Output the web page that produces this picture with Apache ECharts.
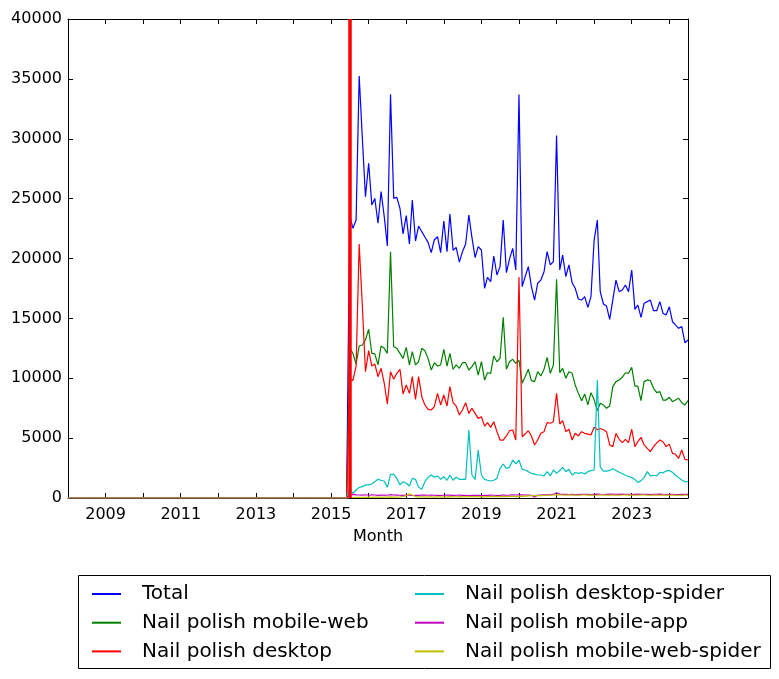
<!DOCTYPE html>
<html><head><meta charset="utf-8">
<script src="https://cdn.jsdelivr.net/npm/echarts@6/dist/echarts.min.js"></script>
<style>html,body{margin:0;padding:0;background:#fff}#c{width:779px;height:679px}</style>
</head><body><div id="c"></div>
<script>
// ---- data ----
const seriesNames = ['Total','Nail polish mobile-web','Nail polish desktop','Nail polish desktop-spider','Nail polish mobile-app','Nail polish mobile-web-spider'];
const seriesColors = ['#0000ff','#008000','#ff0000','#00bfbf','#bf00bf','#bfbf00'];
const zeroFrom = [2008, 1];   // all series are 0 from here ...
const zeroTo = [2015, 6];     // ... to here
const dataStart = [2015, 7];  // first month of the monthly values below
const axisStart = [2008, 1];
const axisEnd = [2024, 7];
const xTickYears = [2009, 2011, 2013, 2015, 2017, 2019, 2021, 2023];
const markerMonth = [2015, 7];

const total = [
23630,22520,23210,35240,30000,25160,27950,24470,25020,22940,
25580,23490,21040,33710,25020,25110,24190,22050,23580,21210,
24880,21460,22710,22240,21800,21350,20490,21570,21820,20490,
23130,20570,23720,20690,20930,19700,20570,21210,23630,21770,
20070,20990,20710,17510,18430,18070,20210,18620,19320,23210,
18820,19950,20850,19040,33700,17650,18480,19320,17650,16530,
17930,18200,18900,20570,19460,19740,30260,19040,20290,18480,
19460,17980,17510,16620,16530,16810,15920,16810,21540,23210,
17230,16200,16030,14920,16530,18200,17230,17370,17790,17230,
19040,15750,16120,15090,16260,16400,16530,15640,15640,16400,
15420,15280,15970,14720,14450,14170,14310,12970,13190];
const mobileWeb = [
12500,12080,11190,12690,12780,13190,14090,12080,12030,11110,
12690,12500,12080,20570,12630,12500,12080,11660,12580,11110,
12220,11110,11380,12500,12300,11660,10690,11300,11020,11110,
12410,11020,12080,10750,11110,10830,11300,11300,10690,10970,
11380,10270,11380,9850,10460,10410,11860,11380,11660,15090,
10750,11380,11580,11250,11500,9580,10130,10750,9800,9720,
10550,10190,10750,11750,10410,11110,18260,10460,10830,10000,
10550,10410,9440,8740,8130,8690,7770,8800,8200,7300,
7910,7770,7490,7680,9300,9720,9860,10080,10460,10410,
10910,9350,9350,8130,9720,9860,9800,9160,8800,8880,
8180,8180,8410,8040,8180,8330,7960,7770,8130];
const desktop = [
10000,9800,11020,21210,16000,10550,12300,11020,11190,10130,
10830,9580,7850,10550,9910,10410,10750,8690,9440,8740,
10130,8240,10130,8460,7770,7400,7350,7630,8740,7770,
8600,7680,9300,7960,7680,6930,7350,7960,7070,7490,
7070,6650,6790,6000,6300,5900,6370,5540,4840,4840,
5180,5620,5680,4840,18450,5120,5340,5620,5180,4430,
4840,5400,5540,6290,6240,6370,8740,6180,6460,5540,
5740,4840,5400,5180,5540,5400,5340,5260,5900,5700,
5800,5700,5540,4430,4290,5400,4900,4620,4900,4620,
5740,4290,4700,5070,4430,4150,3870,4290,4600,4840,
4700,4290,4500,3730,3650,3310,4010,3230,3170];
const desktopSpider = [
810,390,670,890,950,1090,1090,1170,1360,1560,
1480,1400,890,1980,1980,1640,1090,1360,1230,1000,
1640,1560,890,730,1360,1730,1920,1730,1840,1560,
1780,1480,1920,1480,1730,1560,1560,1560,5680,1920,
1560,4010,1920,1560,1480,1420,1480,1640,2480,2840,
2480,2560,3170,2840,3170,2400,2340,2200,2060,2000,
1920,1920,1840,2200,1840,2340,2060,2300,2560,2200,
2400,1920,2130,2060,2130,2000,2200,2280,2340,9850,
2600,2250,2250,2300,2450,2300,2150,2050,1900,1800,
1700,1550,1300,1450,1700,2200,1850,1900,1850,2150,
2100,2250,2300,2150,1900,1700,1500,1350,1380];
const mobileApp = [
280,300,260,250,240,270,230,260,250,220,
240,250,230,280,250,240,230,220,240,230,
210,230,220,250,240,230,240,230,220,210,
230,250,240,220,230,240,220,230,210,220,
230,220,200,230,220,240,230,210,220,250,
230,240,260,250,270,260,250,240,230,60,
240,250,270,260,280,300,440,320,300,310,
290,300,280,290,300,310,300,290,310,320,
300,290,310,320,330,310,300,320,310,300,
290,310,320,300,310,300,290,300,310,320,
300,290,310,300,290,280,300,310,300];
const mobileWebSpider = [
30,40,50,60,50,60,70,60,80,70,
60,80,70,90,80,70,90,120,200,350,
250,120,100,90,80,100,90,80,100,90,
80,100,110,90,100,110,100,90,110,120,
100,110,120,100,110,120,130,120,110,130,
120,140,130,120,150,140,160,180,200,190,
210,200,220,230,240,250,280,260,250,240,
260,250,240,230,250,260,240,250,230,240,
250,260,240,230,250,240,230,250,260,240,
250,230,240,250,260,240,230,250,240,230,
250,240,230,250,240,230,220,240,230];
const allValues = [total, mobileWeb, desktop, desktopSpider, mobileApp, mobileWebSpider];

// ---- helpers ----
function fracYear(y, m) {
  const t0 = Date.UTC(y, 0, 1), t1 = Date.UTC(y + 1, 0, 1);
  return y + (Date.UTC(y, m - 1, 1) - t0) / (t1 - t0);
}
function buildPoints(vals) {
  const pts = [[fracYear(zeroFrom[0], zeroFrom[1]), 0], [fracYear(zeroTo[0], zeroTo[1]), 0]];
  vals.forEach((v, i) => {
    const mm = dataStart[1] - 1 + i;
    const y = dataStart[0] + Math.floor(mm / 12);
    const m = (mm % 12) + 1;
    pts.push([fracYear(y, m), v]);
  });
  return pts;
}
const FONT = 'DejaVu Sans';
const xMin = fracYear(axisStart[0], axisStart[1]);
const xMax = fracYear(axisEnd[0], axisEnd[1]);
const xLabelFmt = v => {
  const r = Math.round(v);
  return (Math.abs(v - r) < 1e-6 && xTickYears.indexOf(r) >= 0) ? String(r) : '';
};

const series = seriesNames.map((name, k) => {
  const s = {
    name, type: 'line', data: buildPoints(allValues[k]),
    xAxisIndex: 0, yAxisIndex: 0,
    showSymbol: false, symbol: 'none', clip: true,
    lineStyle: { color: seriesColors[k], width: 1.2 },
    itemStyle: { color: seriesColors[k] },
    emphasis: { disabled: true }
  };
  if (k === 2) {
    s.markLine = {
      silent: true, symbol: 'none', animation: false,
      label: { show: false },
      lineStyle: { color: '#ff0000', width: 3.5, type: 'solid' },
      emphasis: { disabled: true },
      data: [{ xAxis: fracYear(markerMonth[0], markerMonth[1]) }]
    };
  }
  return s;
});

const axisBase = {
  axisLine: { show: true, onZero: false, lineStyle: { color: '#000', width: 1 } },
  axisTick: { show: true, inside: true, length: 5, lineStyle: { color: '#000', width: 1 } },
  splitLine: { show: false }
};
const legendBase = {
  orient: 'vertical', padding: 0, itemWidth: 29, itemHeight: 2, itemGap: 8.7,
  icon: 'rect', selectedMode: false,
  textStyle: { fontSize: 20, fontFamily: FONT, color: '#000', lineHeight: 20, padding: [0, 0, 0, 16] }
};

const chart = echarts.init(document.getElementById('c'), null, { renderer: 'canvas' });
chart.setOption({
  animation: false,
  backgroundColor: '#fff',
  grid: { left: 68, top: 19, right: 91, bottom: 181, containLabel: false },
  xAxis: [
    Object.assign({}, axisBase, {
      type: 'value', position: 'bottom', min: xMin, max: xMax, interval: 1,
      axisLabel: { formatter: xLabelFmt, color: '#000', fontSize: 16, fontFamily: FONT, margin: 9, showMaxLabel: false },
      name: 'Month', nameLocation: 'middle', nameGap: 31,
      nameTextStyle: { color: '#000', fontSize: 16, fontFamily: FONT }
    }),
    Object.assign({}, axisBase, {
      type: 'value', position: 'top', min: xMin, max: xMax, interval: 1,
      axisLabel: { show: false }
    })
  ],
  yAxis: [
    Object.assign({}, axisBase, {
      type: 'value', position: 'left', min: 0, max: 40000, interval: 5000,
      axisLabel: { color: '#000', fontSize: 16, fontFamily: FONT, margin: 6, formatter: v => String(v) }
    }),
    Object.assign({}, axisBase, {
      type: 'value', position: 'right', min: 0, max: 40000, interval: 5000,
      axisLabel: { show: false }
    })
  ],
  legend: [
    Object.assign({}, legendBase, { data: seriesNames.slice(0, 3), left: 92, top: 584 }),
    Object.assign({}, legendBase, { data: seriesNames.slice(3, 6), left: 415, top: 584 })
  ],
  graphic: [{
    type: 'rect', shape: { x: 78.5, y: 575.5, width: 692, height: 93 },
    style: { fill: 'none', stroke: '#000', lineWidth: 1 }, silent: true
  }],
  series
});
</script>
</body></html>
